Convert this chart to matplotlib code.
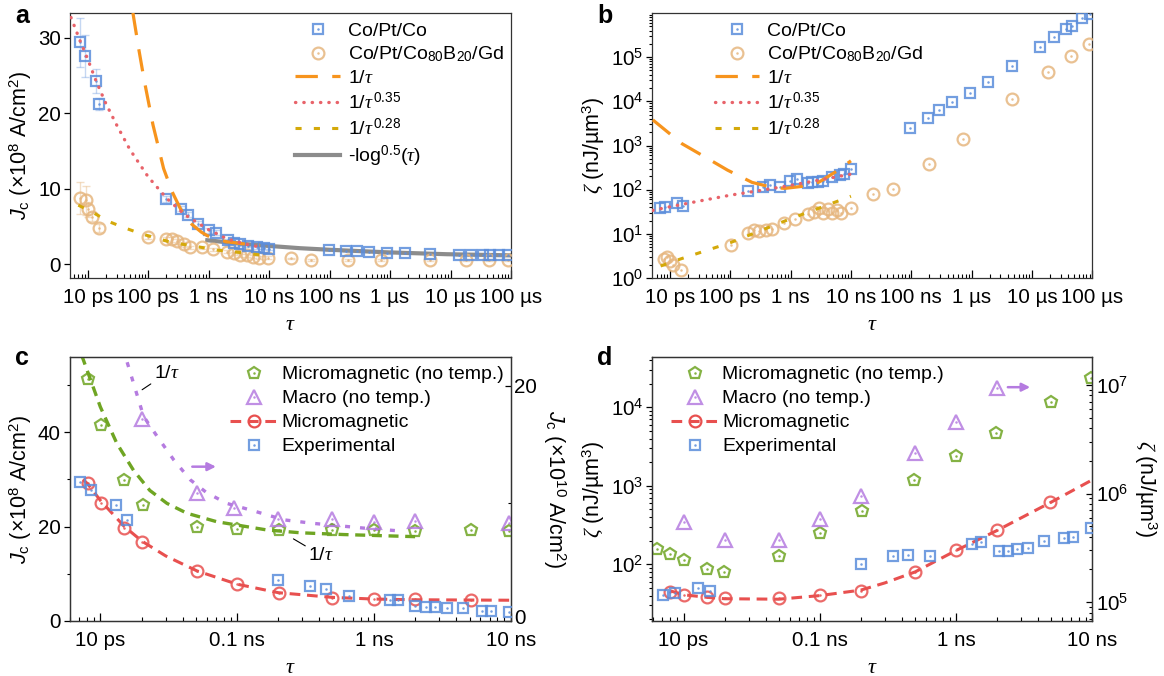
import matplotlib
matplotlib.use("Agg")
import matplotlib.pyplot as plt
from matplotlib.lines import Line2D
from matplotlib.ticker import FixedLocator, LogLocator, NullFormatter
from matplotlib.transforms import ScaledTranslation

plt.rcParams['font.family'] = ['Liberation Sans', 'DejaVu Sans']
plt.rcParams['mathtext.fontset'] = 'custom'
plt.rcParams['mathtext.rm'] = 'Liberation Sans'
plt.rcParams['mathtext.it'] = 'Liberation Serif:italic'
plt.rcParams['mathtext.bf'] = 'Liberation Sans:italic'   # used for the sans italic J
plt.rcParams['mathtext.sf'] = 'Liberation Sans'
plt.rcParams['axes.linewidth'] = 0.9
plt.rcParams['axes.edgecolor'] = '#333333'

# ---------------- colours
BLUE = '#5b8ddb'
TAN = '#e6b67f'
ORANGE = '#f7941d'
RED_DOT = '#e8636a'
OLIVE = '#d4a90a'
GREY = '#8c8c8c'
GREEN = '#6fa523'
PURPLE = '#b57be0'
RED = '#e8504f'

# ---------------- panel a data (tau in s, Jc in 1e8 A/cm2)
a_sq_t = [7.5e-12, 8.9e-12, 1.36e-11, 1.55e-11, 2.0e-10, 3.5e-10, 4.5e-10, 6.6e-10, 1.0e-9, 1.3e-9,
          2.1e-9, 2.6e-9, 3.3e-9, 4.5e-9, 6.3e-9, 8.1e-9, 1.0e-8,
          9.6e-8, 1.9e-7, 2.8e-7, 4.5e-7, 9.0e-7, 1.8e-6, 4.6e-6, 1.4e-5, 2.2e-5, 3.4e-5, 4.5e-5, 6.3e-5, 8.9e-5]
a_sq_j = [29.4, 27.6, 24.3, 21.2, 8.7, 7.4, 6.6, 5.4, 4.5, 4.2,
          3.2, 2.9, 2.7, 2.5, 2.3, 2.2, 2.1,
          1.9, 1.8, 1.8, 1.7, 1.5, 1.45, 1.35, 1.2, 1.2, 1.2, 1.2, 1.2, 1.2]
a_sq_err = [3.2, 2.8, 1.6, 0.8, 0.4, 0.3, 0.3, 0.3, 0.3, 0.3,
            0.2, 0.2, 0.2, 0.2, 0.2, 0.2, 0.2,
            0.1, 0.1, 0.1, 0.1, 0.1, 0.1, 0.1, 0.1, 0.1, 0.1, 0.1, 0.1, 0.1]
a_ci_t = [7.5e-12, 9.3e-12, 1.03e-11, 1.2e-11, 1.55e-11, 1.0e-10, 1.95e-10, 2.5e-10, 3.0e-10, 3.85e-10,
          4.9e-10, 7.7e-10, 1.2e-9, 2.0e-9, 2.6e-9, 3.3e-9, 4.3e-9, 5.5e-9, 6.7e-9, 9.7e-9,
          2.3e-8, 5.0e-8, 2.0e-7, 7.0e-7, 4.6e-6, 1.8e-5, 4.4e-5, 8.9e-5]
a_ci_j = [8.8, 8.5, 7.3, 6.3, 4.85, 3.6, 3.35, 3.3, 3.05, 2.65,
          2.3, 2.25, 2.0, 1.7, 1.5, 1.2, 1.2, 1.0, 0.9, 0.9,
          0.8, 0.6, 0.6, 0.6, 0.6, 0.6, 0.6, 0.6]
a_ci_err = [2.1, 1.9, 1.0, 0.6, 0.5, 0.3, 0.3, 0.3, 0.3, 0.3,
            0.2, 0.2, 0.2, 0.2, 0.2, 0.2, 0.2, 0.2, 0.2, 0.2,
            0.1, 0.1, 0.1, 0.1, 0.1, 0.1, 0.1, 0.1]
a_inv_t = [5.6e-11, 7e-11, 8.6e-11, 1.2e-10, 1.8e-10, 2.5e-10, 3.5e-10, 5.3e-10, 7.5e-10, 9.5e-10, 1.4e-9, 2e-9, 4e-9, 7e-9]
a_inv_y = [33.3, 28.5, 24.4, 18.5, 12.7, 9.6, 7.2, 5.3, 4.3, 3.8, 3.3, 3.0, 2.7, 2.55]
a_p35_t = [5.3e-12, 7.5e-12, 1e-11, 1.36e-11, 2e-11, 3e-11, 5e-11, 1e-10, 2e-10, 4e-10, 1e-9, 2e-9, 4e-9, 8e-9]
a_p35_y = [32.7, 29.6, 27.2, 24.4, 21.3, 18.5, 15.2, 11.6, 8.8, 6.6, 4.6, 3.4, 2.7, 2.2]
a_p28_t = [7e-12, 1.3e-11, 2.2e-11, 4.06e-11, 7.4e-11, 2.45e-10, 4.6e-10, 1.37e-9, 4e-9, 8e-9]
a_p28_y = [7.85, 6.75, 5.7, 4.85, 4.1, 2.9, 2.55, 1.9, 1.5, 1.2]
a_log_t = [9.5e-10, 3.3e-9, 1e-8, 3.2e-8, 9.5e-8, 9e-7, 8.7e-6, 1e-4]
a_log_y = [3.2, 2.75, 2.45, 2.15, 1.95, 1.6, 1.35, 1.2]

# ---------------- panel b data (zeta in nJ/um3)
b_sq_t = [6.9e-12, 8.4e-12, 1.3e-11, 1.65e-11, 2e-10, 3.5e-10, 4.6e-10, 6.7e-10, 9.6e-10, 1.3e-9,
          1.94e-9, 2.3e-9, 2.8e-9, 3.5e-9, 4.8e-9, 6.7e-9, 7.6e-9, 1e-8,
          9.6e-8, 1.9e-7, 2.9e-7, 4.8e-7, 9.3e-7, 1.9e-6, 4.7e-6, 1.37e-5, 2.3e-5, 3.7e-5, 4.6e-5, 6.8e-5, 9.1e-5]
b_sq_z = [38.7, 40.7, 48.7, 42.4, 94, 116, 126, 116, 156, 173,
          143, 150, 150, 157, 195, 214, 225, 287,
          2.5e3, 4.3e3, 6.3e3, 9.5e3, 1.57e4, 2.8e4, 6.4e4, 1.7e5, 2.8e5, 4.3e5, 5.1e5, 7.6e5, 9.4e5]
b_ci_t = [7.9e-12, 9.1e-12, 1e-11, 1.13e-11, 1.5e-11, 1.03e-10, 2e-10, 2.5e-10, 3e-10, 3.9e-10, 5e-10,
          7.8e-10, 1.16e-9, 1.94e-9, 2.44e-9, 3e-9, 3.5e-9, 4.2e-9, 4.8e-9, 5.8e-9, 6.9e-9, 1e-8,
          2.36e-8, 5.06e-8, 2e-7, 7.1e-7, 4.7e-6, 1.86e-5, 4.5e-5, 8.9e-5]
b_ci_z = [2.75, 3.0, 2.43, 1.94, 1.55, 5.7, 10.2, 12, 11.6, 12.5, 13.2,
          17.7, 22, 28.8, 31.3, 37.5, 30.4, 35.6, 30.4, 34.3, 30.4, 38.7,
          78, 106, 372, 1.4e3, 1.13e4, 4.5e4, 1.06e5, 1.96e5]
b_inv_t = [5.2e-12, 1.58e-11, 3.6e-11, 9e-11, 2.3e-10, 5e-10, 8e-10, 1.5e-9, 3e-9, 6e-9, 1e-8]
b_inv_z = [3.8e3, 1.1e3, 575, 277, 146, 112, 107, 118, 150, 270, 450]
b_p35_t = [5.2e-12, 1e-11, 3e-11, 1e-10, 3e-10, 1e-9, 3e-9, 1e-8]
b_p35_z = [34, 41, 55, 75, 95, 125, 165, 225]
b_p28_t = [7e-12, 1.5e-11, 1e-10, 1e-9, 1e-8]
b_p28_z = [1.87, 2.7, 6.3, 22, 71]

# ---------------- panel c data (left: 1e8 A/cm2, right: 1e10 A/cm2)
c_pent_t = [8.1e-12, 1.01e-11, 1.5e-11, 2.04e-11, 5.1e-11, 1e-10, 2.04e-10, 4.95e-10, 1e-9, 2e-9, 5.1e-9, 9.8e-9]
c_pent_j = [20.55, 16.7, 12.0, 9.9, 7.97, 7.8, 7.74, 7.74, 7.74, 7.68, 7.74, 7.65]
c_tri_t = [2.02e-11, 5.1e-11, 9.5e-11, 2e-10, 4.95e-10, 1e-9, 2e-9, 9.8e-9]
c_tri_j = [17.2, 10.9, 9.6, 8.67, 8.67, 8.45, 8.5, 8.36]
c_mm_t = [8.1e-12, 1.01e-11, 1.5e-11, 2.02e-11, 5.1e-11, 1e-10, 2.04e-10, 4.95e-10, 1e-9, 2e-9, 5.1e-9]
c_mm_j = [29.2, 25.1, 19.8, 16.8, 10.6, 7.85, 5.87, 4.8, 4.67, 4.67, 4.45]
c_mmfit_t = [7.5e-12, 8.1e-12, 1.01e-11, 1.5e-11, 2.02e-11, 3e-11, 5.1e-11, 1e-10, 2e-10, 5e-10, 1e-9, 2e-9, 1e-8]
c_mmfit_j = [30.0, 29.0, 25.4, 20.0, 16.9, 13.8, 10.6, 7.8, 6.0, 5.0, 4.65, 4.5, 4.4]
c_exp_t = [7.1e-12, 8.6e-12, 1.3e-11, 1.57e-11, 2e-10, 3.4e-10, 4.5e-10, 6.6e-10, 1.32e-9, 1.49e-9,
           2e-9, 2.4e-9, 2.8e-9, 3.4e-9, 4.5e-9, 6.2e-9, 7.2e-9, 9.8e-9]
c_exp_j = [29.5, 27.8, 24.5, 21.3, 8.7, 7.5, 6.7, 5.4, 4.45, 4.45,
           3.25, 3.0, 2.9, 2.8, 2.7, 2.2, 2.2, 2.0]
c_gfit_t = [7.3e-12, 1e-11, 1.32e-11, 1.75e-11, 2.3e-11, 3.07e-11, 4.3e-11, 7.1e-11, 1.65e-10, 2.9e-10, 6e-10, 2e-9]
c_gfit_j = [22.6, 18.2, 15.1, 12.8, 11.1, 10.0, 9.16, 8.44, 7.74, 7.5, 7.35, 7.17]
c_pfit_t = [1.57e-11, 2.07e-11, 2.6e-11, 3.44e-11, 4.55e-11, 6e-11, 8.4e-11, 1.25e-10, 2.2e-10, 3.6e-10, 8.4e-10, 1.57e-9]
c_pfit_j = [22.0, 17.4, 15.7, 13.7, 12.0, 10.9, 10.0, 9.44, 8.6, 8.3, 7.9, 7.65]

# ---------------- panel d data (nJ/um3)
d_pent_t = [6.4e-12, 8e-12, 1.01e-11, 1.48e-11, 1.99e-11, 5e-11, 1e-10, 2.03e-10, 4.9e-10, 1e-9, 1.98e-9, 5e-9, 9.8e-9]
d_pent_z = [3.09e5, 2.77e5, 2.45e5, 2.02e5, 1.89e5, 2.68e5, 4.3e5, 6.97e5, 1.33e6, 2.22e6, 3.59e6, 7.0e6, 1.15e7]
d_tri_t = [1e-11, 2e-11, 5e-11, 1e-10, 2e-10, 5e-10, 1e-9, 2e-9]
d_tri_z = [5.5e5, 3.74e5, 3.74e5, 5.8e5, 9.5e5, 2.38e6, 4.58e6, 9.3e6]
d_mm_t = [8e-12, 1e-11, 1.48e-11, 2e-11, 5e-11, 1e-10, 2e-10, 5e-10, 1e-9, 2e-9, 4.9e-9]
d_mm_z = [44.8, 40.6, 38, 36.9, 36.9, 40.6, 46.1, 80.5, 152, 273, 627]
d_mmfit_t = [8e-12, 1e-11, 1.5e-11, 2e-11, 5e-11, 1e-10, 2e-10, 3e-10, 5e-10, 1e-9, 2e-9, 5e-9, 1e-8]
d_mmfit_z = [46, 41, 38, 36.5, 36, 40, 47, 58, 80, 150, 270, 620, 1190]
d_exp_t = [7.1e-12, 8.6e-12, 1.27e-11, 1.57e-11, 2e-10, 3.46e-10, 4.45e-10, 6.45e-10, 1.32e-9, 1.53e-9,
           2.07e-9, 2.4e-9, 2.8e-9, 3.4e-9, 4.4e-9, 6.2e-9, 7.2e-9, 9.8e-9]
d_exp_z = [40.6, 42.8, 50.4, 46.1, 100, 128, 131, 128, 181, 194,
           149, 149, 155, 160, 198, 214, 221, 288]

# ---------------- tick labels
ticks_long = [1e-11, 1e-10, 1e-9, 1e-8, 1e-7, 1e-6, 1e-5, 1e-4]
labels_long = ['10 ps', '100 ps', '1 ns', '10 ns', '100 ns', '1 µs', '10 µs', '100 µs']
ticks_short = [1e-11, 1e-10, 1e-9, 1e-8]
labels_short = ['10 ps', '0.1 ns', '1 ns', '10 ns']

TICK_FS = 14.8
LAB_FS = 15.5
LEG_FS = 14

W, H = 1164, 676
fig = plt.figure(figsize=(W / 100, H / 100), dpi=100)


def px_axes(l, t, r, b):
    return fig.add_axes([l / W, 1 - b / H, (r - l) / W, (b - t) / H])


def dot_marker(ax, x, y, marker, color, ms, mew=1.6, alpha=0.85, **kw):
    h1, = ax.plot(x, y, marker=marker, ls='none', color=color, mfc='none', mec=color,
                  ms=ms, mew=mew, alpha=alpha, **kw)
    h2, = ax.plot(x, y, marker='o', ls='none', color=color, ms=1.8, mew=0, alpha=alpha, **kw)
    return (h1, h2)


def style_x(ax, ticks, labels, lo, hi):
    ax.set_xscale('log')
    ax.set_xlim(lo, hi)
    ax.xaxis.set_major_locator(FixedLocator(ticks))
    ax.set_xticklabels(labels)
    ax.xaxis.set_minor_locator(LogLocator(base=10, subs=range(2, 10), numticks=50))
    ax.xaxis.set_minor_formatter(NullFormatter())
    ax.tick_params(axis='x', which='major', direction='in', length=6, width=0.9, labelsize=TICK_FS, pad=7)
    ax.tick_params(axis='x', which='minor', direction='in', length=3, width=0.8)
    ax.set_xlabel(r'$\tau$', fontsize=16, labelpad=5)


def style_y(ax, side='left'):
    d = 'out' if side == 'left' else 'in'
    ax.tick_params(axis='y', which='major', direction=d, length=4, width=0.9, labelsize=TICK_FS, pad=2.5)
    ax.tick_params(axis='y', which='minor', direction=d, length=2.5, width=0.8)


JLABEL8 = r'$\mathbf{J}_\mathrm{c}$ (×10$^8$ A/cm$^2$)'
JLABEL10 = r'$\mathbf{J}_\mathrm{c}$ (×10$^{10}$ A/cm$^2$)'
ZLABEL = r'$\zeta$ (nJ/µm$^3$)'
LEG_KW = dict(frameon=False, fontsize=LEG_FS, borderaxespad=0.2)

# ================= panel a
ax = px_axes(70, 13, 511, 278)
ax.errorbar(a_sq_t, a_sq_j, yerr=a_sq_err, fmt='none', ecolor=BLUE, alpha=0.35, capsize=3, lw=1)
ax.errorbar(a_ci_t, a_ci_j, yerr=a_ci_err, fmt='none', ecolor=TAN, alpha=0.45, capsize=3, lw=1)
hs = dot_marker(ax, a_sq_t, a_sq_j, 's', BLUE, 7.5, zorder=4)
hc = dot_marker(ax, a_ci_t, a_ci_j, 'o', TAN, 8.5, zorder=3)
h1, = ax.plot(a_inv_t, a_inv_y, color=ORANGE, lw=2.3, dashes=(7, 4.5), zorder=5)
h2, = ax.plot(a_p35_t, a_p35_y, color=RED_DOT, lw=2.4, ls=(0, (0.1, 2.4)), dash_capstyle='round', zorder=5)
h3, = ax.plot(a_p28_t, a_p28_y, color=OLIVE, lw=2.2, ls=(0, (2, 4)), zorder=5)
h4, = ax.plot(a_log_t, a_log_y, color=GREY, lw=3, zorder=2)
style_x(ax, ticks_long, labels_long, 5.1e-12, 1e-4)
ax.set_ylim(-1.8, 33.3)
ax.yaxis.set_major_locator(FixedLocator([0, 10, 20, 30]))
ax.yaxis.set_minor_locator(FixedLocator([]))
style_y(ax)
ax.set_ylabel(JLABEL8, fontsize=LAB_FS, labelpad=3)
ax.legend([hs, hc, h1, h2, h3, h4],
          ['Co/Pt/Co', r'Co/Pt/Co$_{80}$B$_{20}$/Gd', r'1/$\tau$', r'1/$\tau$$^{\,0.35}$',
           r'1/$\tau$$^{\,0.28}$', r'-log$^{0.5}$($\tau$)'],
          loc='upper right', bbox_to_anchor=(1.01, 1.01), handlelength=2.3, handletextpad=0.4,
          labelspacing=0.25, **LEG_KW)
fig.text(22 / W, 1 - 16 / H, 'a', fontsize=18, fontweight='bold', va='center', ha='center')

# ================= panel b
ax = px_axes(652.3, 13, 1092.3, 278)
hs = dot_marker(ax, b_sq_t, b_sq_z, 's', BLUE, 7.5, zorder=4)
hc = dot_marker(ax, b_ci_t, b_ci_z, 'o', TAN, 8.5, zorder=3)
h1, = ax.plot(b_inv_t, b_inv_z, color=ORANGE, lw=2.3, dashes=(7, 4.5), zorder=5)
h2, = ax.plot(b_p35_t, b_p35_z, color=RED_DOT, lw=2.4, ls=(0, (0.1, 2.4)), dash_capstyle='round', zorder=5)
h3, = ax.plot(b_p28_t, b_p28_z, color=OLIVE, lw=2.2, ls=(0, (2, 4)), zorder=5)
style_x(ax, ticks_long, labels_long, 5.1e-12, 1e-4)
ax.set_yscale('log')
ax.set_ylim(1, 1e6)
ax.yaxis.set_major_locator(FixedLocator([1, 10, 100, 1e3, 1e4, 1e5]))
ax.set_yticklabels(['10$^0$', '10$^1$', '10$^2$', '10$^3$', '10$^4$', '10$^5$'])
ax.yaxis.set_minor_locator(LogLocator(base=10, subs=range(2, 10), numticks=50))
ax.yaxis.set_minor_formatter(NullFormatter())
style_y(ax)
ax.set_ylabel(ZLABEL, fontsize=LAB_FS, labelpad=3)
ax.legend([hs, hc, h1, h2, h3],
          ['Co/Pt/Co', r'Co/Pt/Co$_{80}$B$_{20}$/Gd', r'1/$\tau$', r'1/$\tau$$^{\,0.35}$', r'1/$\tau$$^{\,0.28}$'],
          loc='upper left', bbox_to_anchor=(0.115, 1.01), handlelength=2.3, handletextpad=0.4,
          labelspacing=0.25, **LEG_KW)
fig.text(605 / W, 1 - 16 / H, 'b', fontsize=18, fontweight='bold', va='center', ha='center')

# ================= panel c
ax = px_axes(70, 356.7, 510.7, 621)
axr = ax.twinx()
ax.set_zorder(axr.get_zorder() + 1)
ax.patch.set_visible(False)
hp = dot_marker(axr, c_pent_t, c_pent_j, 'p', GREEN, 9, zorder=4)
ht = dot_marker(axr, c_tri_t, c_tri_j, '^', PURPLE, 9.5, zorder=4)
axr.plot(c_gfit_t, c_gfit_j, color=GREEN, lw=2.4, dashes=(3, 2), zorder=3)
axr.plot(c_pfit_t, c_pfit_j, color=PURPLE, lw=2.4, dashes=(1.5, 3), zorder=3)
ax.plot(c_mmfit_t, c_mmfit_j, color=RED, lw=2.2, dashes=(3.5, 2.2), zorder=3)
hm = dot_marker(ax, c_mm_t, c_mm_j, 'o', RED, 8.5, zorder=4)
he = dot_marker(ax, c_exp_t, c_exp_j, 's', BLUE, 7.5, zorder=4)
hm_leg = (Line2D([], [], color=RED, lw=2.2, dashes=(3.5, 2.2), marker='o', mfc='none', mec=RED, ms=8.5, mew=1.6),
          Line2D([], [], color=RED, ls='none', marker='o', ms=1.8, mew=0))
style_x(ax, ticks_short, labels_short, 6.0e-12, 1e-8)
ax.set_ylim(0, 56)
ax.yaxis.set_major_locator(FixedLocator([0, 20, 40]))
ax.yaxis.set_minor_locator(FixedLocator([10, 30, 50]))
style_y(ax)
ax.set_ylabel(JLABEL8, fontsize=LAB_FS, labelpad=3)
axr.set_ylim(0, 22.47)
axr.yaxis.set_major_locator(FixedLocator([0, 20]))
axr.yaxis.set_minor_locator(FixedLocator([10]))
style_y(axr, 'right')
axr.set_ylabel(JLABEL10, fontsize=LAB_FS, rotation=-90, labelpad=22)
# lift the right-hand "0" a little so it clears the "10 ns" tick label
zero_lbl = axr.get_yticklabels()[0]
zero_lbl.set_transform(zero_lbl.get_transform() + ScaledTranslation(0, 4 / 100, fig.dpi_scale_trans))
ax.legend([hp, ht, hm_leg, he],
          ['Micromagnetic (no temp.)', 'Macro (no temp.)', 'Micromagnetic', 'Experimental'],
          loc='upper right', bbox_to_anchor=(1.01, 1.01), handlelength=2.5, handletextpad=0.15,
          labelspacing=0.33, **LEG_KW)
ax.annotate(r'1/$\tau$', xy=(2.02e-11, 49), xytext=(2.45e-11, 51.5), fontsize=14,
            arrowprops=dict(arrowstyle='-', color='black', lw=0.8, shrinkA=0, shrinkB=0))
ax.annotate(r'1/$\tau$', xy=(2.58e-10, 17.4), xytext=(3.3e-10, 13.0), fontsize=14,
            arrowprops=dict(arrowstyle='-', color='black', lw=0.8, shrinkA=0, shrinkB=0))
ax.annotate('', xy=(7.0e-11, 32.7), xytext=(4.7e-11, 32.7),
            arrowprops=dict(arrowstyle='-|>', color=PURPLE, lw=1.8, mutation_scale=12, shrinkA=0, shrinkB=0))
fig.text(22 / W, 1 - 358 / H, 'c', fontsize=18, fontweight='bold', va='center', ha='center')

# ================= panel d
ax = px_axes(652.3, 356.7, 1092.3, 621)
axr = ax.twinx()
ax.set_zorder(axr.get_zorder() + 1)
ax.patch.set_visible(False)
hp = dot_marker(axr, d_pent_t, d_pent_z, 'p', GREEN, 9, zorder=4)
ht = dot_marker(axr, d_tri_t, d_tri_z, '^', PURPLE, 9.5, zorder=4)
ax.plot(d_mmfit_t, d_mmfit_z, color=RED, lw=2.2, dashes=(3.5, 2.2), zorder=3)
hm = dot_marker(ax, d_mm_t, d_mm_z, 'o', RED, 8.5, zorder=4)
he = dot_marker(ax, d_exp_t, d_exp_z, 's', BLUE, 7.5, zorder=4)
style_x(ax, ticks_short, labels_short, 5.9e-12, 1e-8)
ax.set_yscale('log')
ax.set_ylim(19, 4.4e4)
ax.yaxis.set_major_locator(FixedLocator([100, 1e3, 1e4]))
ax.set_yticklabels(['10$^2$', '10$^3$', '10$^4$'])
ax.yaxis.set_minor_locator(LogLocator(base=10, subs=range(2, 10), numticks=50))
ax.yaxis.set_minor_formatter(NullFormatter())
style_y(ax)
ax.set_ylabel(ZLABEL, fontsize=LAB_FS, labelpad=3)
axr.set_yscale('log')
axr.set_ylim(6.7e4, 1.82e7)
axr.yaxis.set_major_locator(FixedLocator([1e5, 1e6, 1e7]))
axr.set_yticklabels(['10$^5$', '10$^6$', '10$^7$'])
axr.yaxis.set_minor_locator(LogLocator(base=10, subs=range(2, 10), numticks=50))
axr.yaxis.set_minor_formatter(NullFormatter())
style_y(axr, 'right')
axr.set_ylabel(ZLABEL, fontsize=LAB_FS, rotation=-90, labelpad=22)
ax.legend([hp, ht, hm_leg, he],
          ['Micromagnetic (no temp.)', 'Macro (no temp.)', 'Micromagnetic', 'Experimental'],
          loc='upper left', bbox_to_anchor=(0.015, 1.01), handlelength=2.5, handletextpad=0.15,
          labelspacing=0.33, **LEG_KW)
ax.annotate('', xy=(3.5e-9, 1.8e4), xytext=(2.4e-9, 1.8e4),
            arrowprops=dict(arrowstyle='-|>', color=PURPLE, lw=1.8, mutation_scale=12, shrinkA=0, shrinkB=0))
fig.text(605 / W, 1 - 358 / H, 'd', fontsize=18, fontweight='bold', va='center', ha='center')

fig.savefig('out.png', dpi=100)
